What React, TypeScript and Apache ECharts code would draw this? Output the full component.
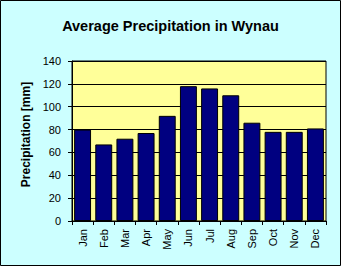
import React, { useEffect, useRef } from "react";
import * as echarts from "echarts";

const months = ["Jan", "Feb", "Mar", "Apr", "May", "Jun", "Jul", "Aug", "Sep", "Oct", "Nov", "Dec"];
const precipitation = [80, 67, 72, 77, 92, 118, 116, 110, 86, 78, 78, 81];
const yTicks = { min: 0, max: 140, interval: 20 };
const titleText = "Average Precipitation in Wynau";
const yName = "Precipitation [mm]";

export default function App() {
  const ref = useRef<HTMLDivElement>(null);
  useEffect(() => {
    if (!ref.current) return;
    const chart = echarts.init(ref.current, null, { renderer: "svg" });
    const font = "'Liberation Sans', Arial, sans-serif";
    chart.setOption({
      animation: false,
      backgroundColor: "#ccffff",
      textStyle: { fontFamily: font },
      title: {
        text: titleText,
        left: "center",
        top: 13,
        textStyle: { fontFamily: font, fontSize: 14.5, fontWeight: "bold", color: "#000" },
      },
      graphic: [
        {
          type: "rect",
          shape: { x: 0.5, y: 0.5, width: 340, height: 265 },
          style: { fill: "none", stroke: "#000", lineWidth: 1 },
          silent: true,
        },
      ],
      grid: {
        left: 72,
        top: 61,
        width: 254,
        height: 160,
        show: true,
        backgroundColor: "#ffff99",
        borderColor: "#000",
        borderWidth: 1,
      },
      xAxis: {
        type: "category",
        data: months,
        axisLine: { lineStyle: { color: "#000", width: 1 } },
        axisTick: { show: true, alignWithLabel: false, length: 4, lineStyle: { color: "#000" } },
        axisLabel: { rotate: 90, margin: 8, fontSize: 11, color: "#000", fontFamily: font },
      },
      yAxis: {
        type: "value",
        min: yTicks.min,
        max: yTicks.max,
        interval: yTicks.interval,
        name: yName,
        nameLocation: "middle",
        nameGap: 39,
        nameTextStyle: {
          fontFamily: font,
          fontSize: 12,
          fontWeight: "bold",
          color: "#000",
          padding: [0, 0, 0, 13],
        },
        axisLine: { show: true, lineStyle: { color: "#000", width: 1 } },
        axisTick: { show: true, length: 4, lineStyle: { color: "#000" } },
        axisLabel: { margin: 11, fontSize: 11, color: "#000", fontFamily: font },
        splitLine: { show: true, lineStyle: { color: "#000", width: 1 } },
      },
      series: [
        {
          type: "bar",
          data: precipitation,
          barCategoryGap: "20%",
          itemStyle: { color: "#000080", borderColor: "#000", borderWidth: 1 },
        },
      ],
    });
    return () => chart.dispose();
  }, []);
  return (
    <div
      ref={ref}
      style={{ position: "fixed", left: 0, top: 0, width: 341, height: 266 }}
    />
  );
}
